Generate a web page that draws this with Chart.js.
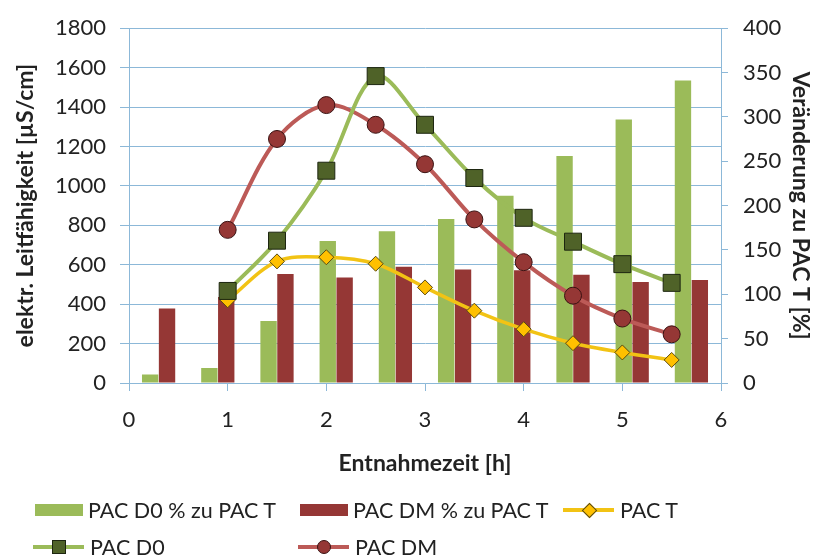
<!DOCTYPE html>
<html><head><meta charset="utf-8">
<script src="https://cdn.jsdelivr.net/npm/chart.js@4/dist/chart.umd.min.js"></script>
<style>
html,body{margin:0;padding:0;background:#fff;}
#wrap{position:relative;width:814px;height:558px;overflow:hidden;font-family:Lato,"Noto Sans",sans-serif;color:#222;}
#c{position:absolute;left:0;top:0;}
.lgtext{position:absolute;font-size:21.5px;line-height:24px;white-space:nowrap;transform:translateY(-50%);}
.sw{position:absolute;}
</style></head>
<body><div id="wrap"><canvas id="c" width="814" height="558"></canvas></div>
<script>
// Bar categories (positions on the time axis of the 10 bar groups)
const barCategories = [0.3, 0.9, 1.5, 2.1, 2.7, 3.3, 3.9, 4.5, 5.1, 5.7];
// Bar series, % (right axis)
const pacD0Pct = [9.5, 17, 70, 160, 171, 185, 211, 256, 297, 341];
const pacDMPct = [84, 97, 123, 119, 131, 128, 127, 122, 114, 116];
// Line series, µS/cm (left axis)
const times = [1, 1.5, 2, 2.5, 3, 3.5, 4, 4.5, 5, 5.5];
const pacT  = [420, 617, 638, 605, 485, 367, 273, 202, 155, 117];
const pacD0 = [467, 722, 1077, 1557, 1310, 1040, 838, 717, 603, 508];
const pacDM = [777, 1238, 1410, 1310, 1110, 830, 613, 443, 327, 247];

const labels = {
  d0pct: 'PAC D0 % zu PAC T',
  dmpct: 'PAC DM % zu PAC T',
  t: 'PAC T',
  d0: 'PAC D0',
  dm: 'PAC DM'
};

const C = {
  green: '#9bbb59', red: '#953735', yellow: '#f2c314', yellowFill: '#ffc000',
  d0Fill: '#4f6228', dmLine: '#bc5a57', dmFill: '#953735',
  grid: '#8cb8d8', text: '#222222'
};

const pts = (xs, ys) => xs.map((x, i) => ({x, y: ys[i]}));
const tickFont = {family: 'Lato', size: 22};
const titleFont = {family: 'Lato', size: 23, weight: 'bold'};
const plain = v => String(v);

new Chart(document.getElementById('c'), {
  data: {
    datasets: [
      {type: 'bar', label: labels.d0pct, data: pts(barCategories, pacD0Pct), yAxisID: 'y2', xAxisID: 'x',
       backgroundColor: C.green, categoryPercentage: 0.57, barPercentage: 0.97, order: 5},
      {type: 'bar', label: labels.dmpct, data: pts(barCategories, pacDMPct), yAxisID: 'y2', xAxisID: 'x',
       backgroundColor: C.red, categoryPercentage: 0.57, barPercentage: 0.97, order: 6},
      {type: 'line', label: labels.t, data: pts(times, pacT), yAxisID: 'y', borderColor: C.yellow, borderWidth: 3.5,
       tension: 0.33, pointStyle: 'rectRot', pointRadius: 7.5, pointBackgroundColor: C.yellowFill,
       pointBorderColor: '#5a4a10', pointBorderWidth: 1, order: 3},
      {type: 'line', label: labels.dm, data: pts(times, pacDM), yAxisID: 'y', borderColor: C.dmLine, borderWidth: 4,
       tension: 0.33, pointStyle: 'circle', pointRadius: 8.5, pointBackgroundColor: C.dmFill,
       pointBorderColor: '#3a1212', pointBorderWidth: 1, order: 2},
      {type: 'line', label: labels.d0, data: pts(times, pacD0), yAxisID: 'y', borderColor: C.green, borderWidth: 4,
       tension: 0.33, pointStyle: 'rect', pointRadius: 12, pointBackgroundColor: C.d0Fill,
       pointBorderColor: '#1d2610', pointBorderWidth: 1, order: 1}
    ]
  },
  options: {
    responsive: false,
    animation: false,
    devicePixelRatio: 1,
    layout: {padding: {top: 23, bottom: 80, left: 0, right: 0}},
    plugins: {legend: {display: false}, tooltip: {enabled: false}},
    scales: {
      x: {
        type: 'linear', position: 'bottom', min: 0, max: 6, offset: false,
        ticks: {stepSize: 1, font: tickFont, color: C.text, padding: 16, callback: plain},
        grid: {drawOnChartArea: false, drawTicks: true, tickLength: 8, color: C.grid, offset: false},
        border: {display: true, color: C.grid},
        title: {display: true, text: 'Entnahmezeit [h]', font: titleFont, color: C.text, padding: {top: 0, bottom: 1}},
        afterFit: s => { s.height = 95; }
      },
      y: {
        type: 'linear', position: 'left', min: 0, max: 1800,
        ticks: {stepSize: 200, font: tickFont, color: C.text, padding: 14, callback: plain},
        grid: {color: C.grid, tickLength: 9, drawTicks: true},
        border: {display: true, color: C.grid},
        title: {display: true, text: 'elektr. Leitfähigkeit [µS/cm]', font: titleFont, color: C.text, padding: {top: 12, bottom: 0}},
        afterFit: s => { s.width = 129; }
      },
      y2: {
        type: 'linear', position: 'right', min: 0, max: 400,
        ticks: {stepSize: 50, font: tickFont, color: C.text, padding: 15, callback: plain},
        grid: {drawOnChartArea: false, color: C.grid, tickLength: 7, drawTicks: true},
        border: {display: true, color: C.grid},
        title: {display: true, text: 'Veränderung zu PAC T [%]', font: titleFont, color: C.text, padding: {top: 0, bottom: 0}},
        afterFit: s => { s.width = 93; }
      }
    }
  }
});

// HTML legend
const wrap = document.getElementById('wrap');
function el(style, text, cls) {
  const d = document.createElement('div');
  d.className = cls || 'sw';
  Object.assign(d.style, style);
  if (text) d.textContent = text;
  wrap.appendChild(d);
  return d;
}
function barItem(x, y, color, text) {
  el({left: x + 'px', top: (y - 6) + 'px', width: '48px', height: '12px', background: color});
  el({left: (x + 53) + 'px', top: y + 'px'}, text, 'lgtext');
}
function lineItem(x, y, lineColor, marker, text) {
  el({left: x + 'px', top: (y - 2) + 'px', width: '51px', height: '4px', background: lineColor});
  const cx = x + 25.5;
  if (marker === 'square') {
    el({left: (cx - 7) + 'px', top: (y - 7) + 'px', width: '12px', height: '12px', background: C.d0Fill, border: '1px solid #1d2610'});
  } else if (marker === 'circle') {
    el({left: (cx - 7) + 'px', top: (y - 7) + 'px', width: '12px', height: '12px', background: C.dmFill, border: '1px solid #3a1212', borderRadius: '50%'});
  } else {
    el({left: (cx - 5) + 'px', top: (y - 5) + 'px', width: '9px', height: '9px', background: C.yellowFill, border: '1px solid #5a4a10', transform: 'rotate(45deg)'});
  }
  el({left: (x + 57) + 'px', top: y + 'px'}, text, 'lgtext');
}
barItem(35, 510, C.green, labels.d0pct);
barItem(300, 510, C.red, labels.dmpct);
lineItem(563, 510, C.yellow, 'diamond', labels.t);
lineItem(33, 547, C.green, 'square', labels.d0);
lineItem(298, 547, C.dmLine, 'circle', labels.dm);
</script>
</body></html>
